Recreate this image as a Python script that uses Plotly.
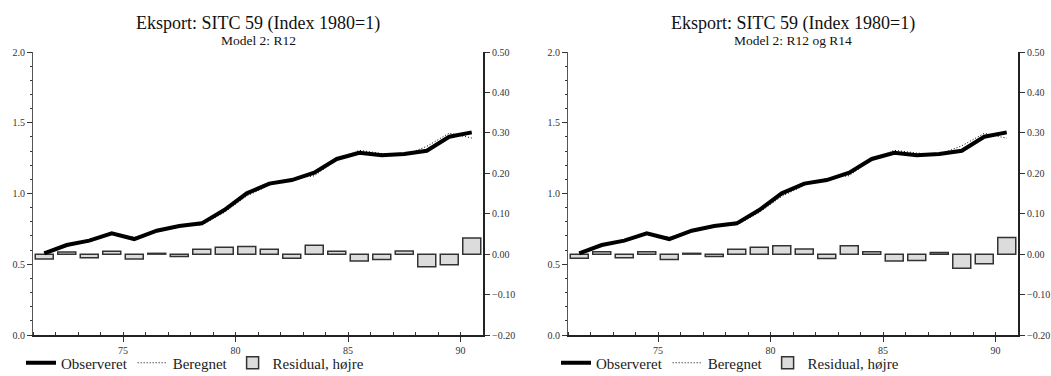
import plotly.graph_objects as go

years = list(range(1971, 1991))
tick_vals = [75, 80, 85, 90]
tick_text = ["75", "80", "85", "90"]

observed = [0.577, 0.636, 0.667, 0.719, 0.678, 0.737, 0.770, 0.789, 0.883, 1.001,
            1.070, 1.095, 1.147, 1.244, 1.288, 1.270, 1.279, 1.302, 1.401, 1.432]

fitted_m1 = [0.589, 0.631, 0.676, 0.712, 0.690, 0.735, 0.776, 0.777, 0.866, 0.982,
             1.058, 1.105, 1.125, 1.237, 1.305, 1.283, 1.271, 1.333, 1.427, 1.392]
resid_m1 = [-0.012, 0.005, -0.009, 0.007, -0.012, 0.002, -0.006, 0.012, 0.017, 0.019,
            0.012, -0.010, 0.022, 0.007, -0.017, -0.013, 0.008, -0.031, -0.026, 0.040]

fitted_m2 = [0.587, 0.630, 0.676, 0.713, 0.691, 0.735, 0.776, 0.777, 0.866, 0.980,
             1.057, 1.106, 1.126, 1.238, 1.305, 1.286, 1.275, 1.337, 1.425, 1.391]
resid_m2 = [-0.010, 0.006, -0.009, 0.006, -0.013, 0.002, -0.006, 0.012, 0.017, 0.021,
            0.013, -0.011, 0.021, 0.006, -0.017, -0.016, 0.004, -0.035, -0.024, 0.041]

title_main = "Eksport: SITC 59 (Index 1980=1)"
subtitles = ["Model 2: R12", "Model 2: R12 og R14"]
names = ["Observeret", "Beregnet", "Residual, højre"]

W, H = 1051, 376
FONT = "Liberation Serif, Times New Roman, serif"
TXT = "#333333"

# x positions: mid-year
xpos = [y - 1900 + 0.5 for y in years]

fig = go.Figure()

panels = [
    dict(fit=fitted_m1, res=resid_m1, sub=subtitles[0], x0=33, x1=483, xa="x", yb="y", yl="y2", leg="legend"),
    dict(fit=fitted_m2, res=resid_m2, sub=subtitles[1], x0=568, x1=1018, xa="x2", yb="y3", yl="y4", leg="legend2"),
]

for p in panels:
    fig.add_trace(go.Bar(
        x=xpos, y=p["res"], xaxis=p["xa"], yaxis=p["yb"], name=names[2],
        marker=dict(color="#dcdcdc", line=dict(color="#333333", width=1.5)),
        width=0.8, legend=p["leg"], legendrank=3))
    fig.add_trace(go.Scatter(
        x=xpos, y=observed, xaxis=p["xa"], yaxis=p["yl"], name=names[0], mode="lines",
        line=dict(color="black", width=4), legend=p["leg"], legendrank=1))
    fig.add_trace(go.Scatter(
        x=xpos, y=p["fit"], xaxis=p["xa"], yaxis=p["yl"], name=names[1], mode="lines",
        line=dict(color="black", width=1, dash="1px,2px"), legend=p["leg"], legendrank=2))

y_bot, y_top = 335, 52
ydom = [(H - y_bot) / H, (H - y_top) / H]

def xaxis_cfg(x0, x1, anchor):
    return dict(domain=[x0 / W, x1 / W], range=[71, 91], anchor=anchor,
                tickvals=tick_vals, ticktext=tick_text, ticks="outside", ticklen=5,
                tickwidth=1, tickcolor="#333",
                minor=dict(dtick=1, tick0=71, ticks="inside", ticklen=3, tickcolor="#333", tickwidth=1),
                showline=True, linecolor="#222", linewidth=2, showgrid=False, zeroline=False,
                tickfont=dict(size=10, color=TXT, family=FONT), fixedrange=True)

def ybar_cfg(anchor):
    return dict(domain=ydom, range=[-0.2, 0.5], side="right", anchor=anchor,
                tick0=-0.2, dtick=0.1, tickformat=".2f", ticks="outside", ticklen=5,
                tickcolor="#333", showline=True, linecolor="#222", linewidth=2,
                showgrid=False, zeroline=False, tickfont=dict(size=10, color=TXT, family=FONT))

def yline_cfg(anchor, overlay):
    return dict(domain=ydom, range=[0, 2.0], side="left", anchor=anchor, overlaying=overlay,
                tick0=0, dtick=0.5, tickformat=".1f", ticks="outside", ticklen=5, tickcolor="#333",
                minor=dict(dtick=0.1, ticks="outside", ticklen=2, tickcolor="#333"),
                showline=True, linecolor="#555", linewidth=1,
                showgrid=False, zeroline=False, tickfont=dict(size=10, color=TXT, family=FONT))

leg_common = dict(orientation="h", yanchor="middle", y=13 / H, xanchor="left",
                  font=dict(size=15, color="#222", family=FONT), bgcolor="rgba(0,0,0,0)",
                  itemwidth=30, traceorder="normal")

fig.update_layout(
    width=W, height=H, margin=dict(l=0, r=0, t=0, b=0, autoexpand=False),
    paper_bgcolor="white", plot_bgcolor="white", barmode="overlay", showlegend=True,
    font=dict(family=FONT, color=TXT),
    xaxis=xaxis_cfg(33, 483, "y"),
    yaxis=ybar_cfg("x"),
    yaxis2=yline_cfg("x", "y"),
    xaxis2=xaxis_cfg(568, 1018, "y3"),
    yaxis3=ybar_cfg("x2"),
    yaxis4=yline_cfg("x2", "y3"),
    legend=dict(leg_common, x=21 / W),
    legend2=dict(leg_common, x=556 / W),
)

for p in panels:
    cx = (p["x0"] + p["x1"]) / 2 / W
    fig.add_annotation(text=title_main, x=cx, y=(H - 23) / H, xref="paper", yref="paper",
                       xanchor="center", yanchor="middle",
                       showarrow=False, font=dict(size=18, color="#111", family=FONT))
    fig.add_annotation(text=p["sub"], x=cx, y=(H - 40) / H, xref="paper", yref="paper",
                       xanchor="center", yanchor="middle",
                       showarrow=False, font=dict(size=13.5, color="#111", family=FONT))

fig.write_html("out.html")
